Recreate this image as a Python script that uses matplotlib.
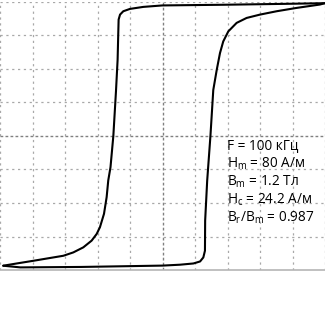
import matplotlib
matplotlib.use("Agg")
import matplotlib.pyplot as plt
import numpy as np

# Hysteresis loop data (H in A/m, B in T)
upper_H = [80, 60, 30, 0, -9.4, -16.0, -19.3, -20.9, -21.6, -21.8, -22.1, -22.9, -24.2,
           -25.6, -26.7, -27.5, -28.8, -30.8, -32.4, -34.9, -39.0, -43.9, -48.8, -55.4,
           -63.6, -71.8, -78.4]
upper_B = [1.186, 1.180, 1.172, 1.166, 1.153, 1.135, 1.114, 1.084, 1.040, 0.900, 0.680,
           0.400, 0.0, -0.280, -0.398, -0.548, -0.697, -0.817, -0.877, -0.937, -0.997,
           -1.042, -1.072, -1.092, -1.117, -1.141, -1.161]
lower_H = [-78.4, -70, -40, 0, 8.6, 15.2, 18.5, 20.1, 20.9, 21.0, 22.0, 23.6, 25.0, 26.7,
           28.3, 29.9, 32.4, 36.5, 41.4, 48.0, 56.2, 66.1, 77.5, 80]
lower_B = [-1.161, -1.176, -1.172, -1.160, -1.152, -1.141, -1.123, -1.087, -1.027, -0.757,
           -0.400, 0.0, 0.410, 0.590, 0.740, 0.844, 0.934, 1.010, 1.054, 1.084, 1.114,
           1.144, 1.174, 1.186]

H_div = 16.0   # A/m per division
B_div = 0.3    # T per division
H_lim = 80
B_lim = 1.2

labels = ["F = 100 кГц",
          "H$_\\mathregular{m}$ = 80 А/м",
          "B$_\\mathregular{m}$ = 1.2 Тл",
          "H$_\\mathregular{c}$ = 24.2 А/м",
          "B$_\\mathregular{r}$/B$_\\mathregular{m}$ = 0.987"]

plt.rcParams['font.family'] = ['Open Sans', 'DejaVu Sans']
plt.rcParams['lines.scale_dashes'] = False

fig = plt.figure(figsize=(3.25, 3.25), dpi=100)
ax = fig.add_axes([0.0, 0.169, 1.0, 0.826])
ax.set_xlim(-H_lim, H_lim)
ax.set_ylim(-B_lim, B_lim)

xt = np.arange(-H_lim, H_lim + 0.1, H_div)
yt = np.arange(-4, 5) * B_div
for x in xt:
    if abs(x) < 1e-9:
        ax.axvline(x, color='#808080', lw=1.0, ls=(0, (2.0, 1.6)), zorder=1)
    else:
        ax.axvline(x, color='#a8a8a8', lw=0.9, ls=(0, (1.6, 2.6)), zorder=1)
for y in yt:
    if abs(y) < 1e-9:
        ax.axhline(y, color='#808080', lw=1.0, ls=(0, (2.0, 1.6)), zorder=1)
    elif y > -B_lim + 1e-9:
        ax.axhline(y, color='#a8a8a8', lw=0.9, ls=(0, (1.6, 2.6)), zorder=1)

for s in ['top', 'left', 'right']:
    ax.spines[s].set_visible(False)
ax.spines['bottom'].set_color('#b5b5b5')
ax.spines['bottom'].set_linewidth(1.2)
ax.set_xticks([])
ax.set_yticks([])

ax.plot(upper_H, upper_B, color='black', lw=1.5, solid_joinstyle='round',
        solid_capstyle='round', zorder=3)
ax.plot(lower_H, lower_B, color='black', lw=1.5, solid_joinstyle='round',
        solid_capstyle='round', zorder=3)

y0 = 0.463
dy = (0.463 - 0.196) / 4
for i, t in enumerate(labels):
    ax.text(0.70, y0 - i * dy, t, transform=ax.transAxes, fontsize=9.8,
            ha='left', va='center', color='black', zorder=4)

fig.savefig('out.png', dpi=100, facecolor='white')
